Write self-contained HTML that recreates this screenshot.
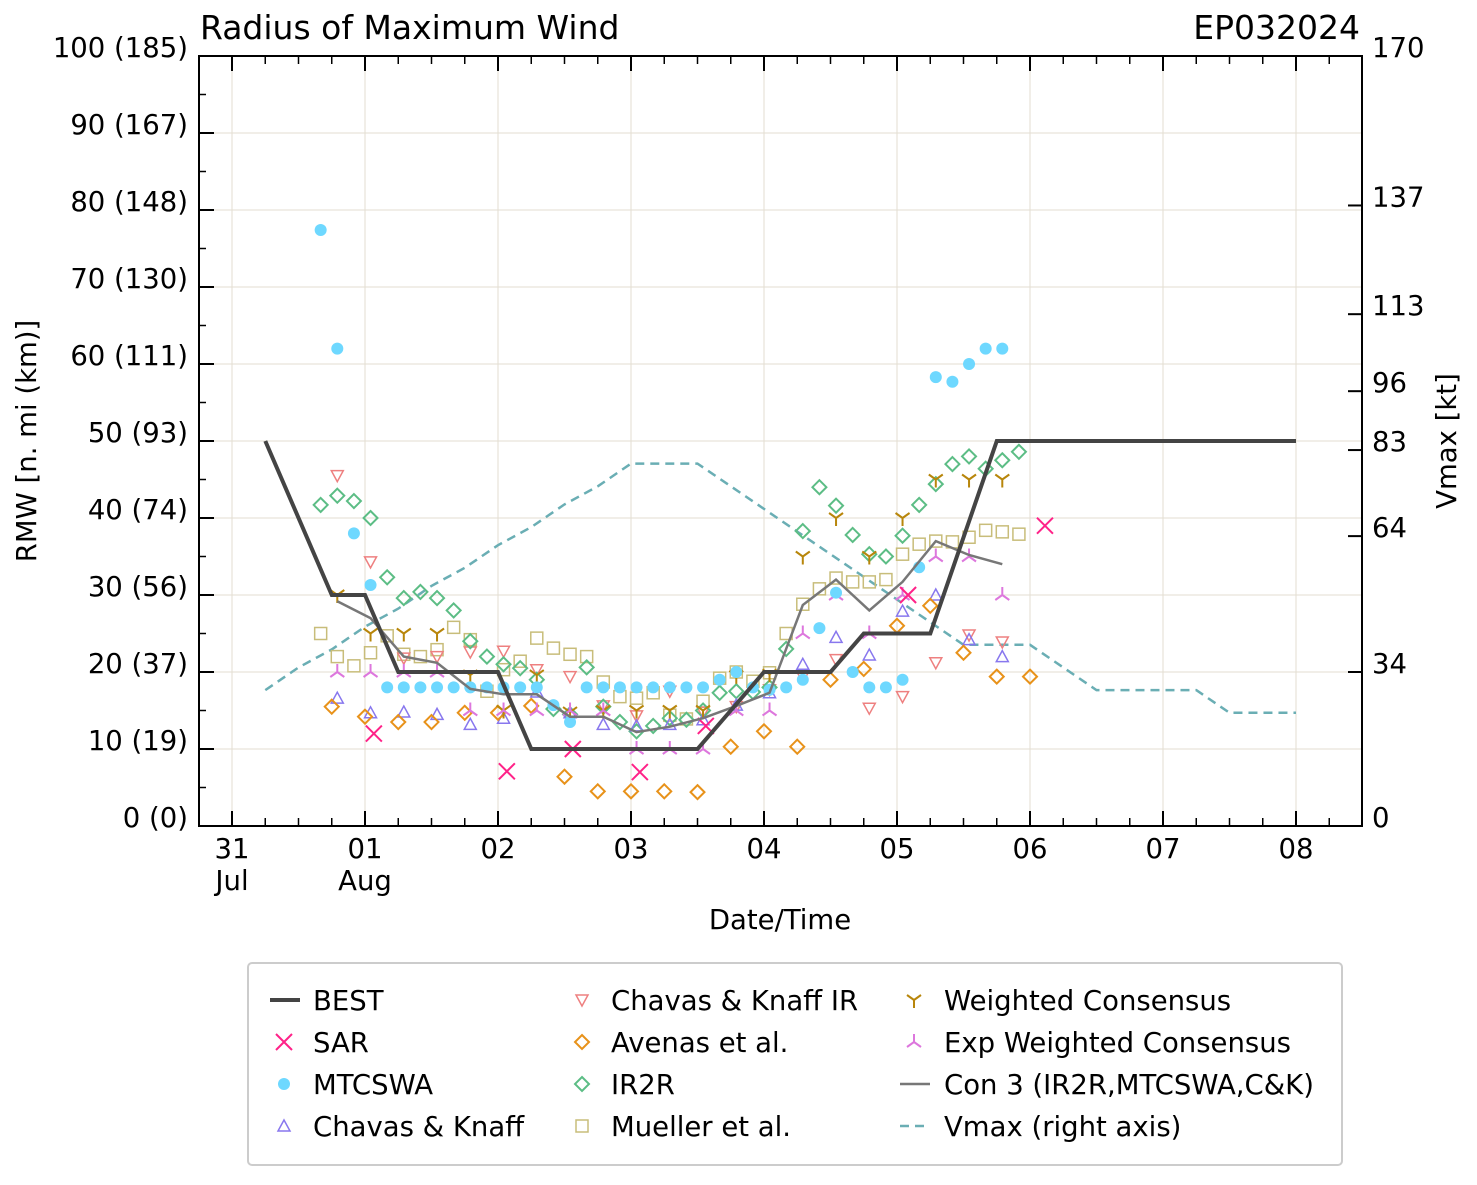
<!DOCTYPE html>
<html><head><meta charset="utf-8"><style>
body{margin:0;background:#fff}
svg text{font-family:"DejaVu Sans","Liberation Sans",sans-serif;fill:#000}
</style></head><body>
<svg id="c" width="1477" height="1180" xmlns="http://www.w3.org/2000/svg">
<text x="200" y="39" font-size="33">Radius of Maximum Wind</text>
<text x="1360" y="39" font-size="33" text-anchor="end">EP032024</text>
<text x="780" y="929" font-size="27.5" text-anchor="middle">Date/Time</text>
<text transform="translate(36,441) rotate(-90)" font-size="27.5" text-anchor="middle">RMW [n. mi (km)]</text>
<text transform="translate(1456,441) rotate(-90)" font-size="27.5" text-anchor="middle">Vmax [kt]</text>
<g id="grid"></g><g id="marks"></g><g id="axes"></g><g id="legend"></g>
</svg>
<script>
const t3 = [16,19,22,25,28,31,34,37,40,43,46,49,52,55,58,61,64,67,70,73,76,79,82,85,88,91,94,97,100,103,106,109,112,115,118,121,124,127,130,133,136,139,142];
const t6 = [19,25,31,37,43,49,55,61,67,73,79,85,91,97,103,109,115,121,127,133,139];
const tAven = [18,24,30,36,42,48,54,60,66,72,78,84,90,96,102,108,114,120,126,132,138,144];
const bestT = [6,18,24,30,48,54,84,96,108,114,126,138,192];
const bestV = [50,30,30,20,20,10,10,20,20,25,25,50,50];
const vmaxT = [6,12,18,24,30,36,42,48,54,60,66,72,84,90,96,102,108,114,120,126,132,138,144,150,156,174,180,192];
const vmaxV = [30,35,39,44,48,53,57,62,66,71,75,80,80,75,70,65,60,55,50,45,40,40,40,35,30,30,25,25];
const mtcT = t3.slice(0,42);
const mtcV = [77.4,62,38,31.3,18,18,18,18,18,18,18,18,18,18,15.7,13.5,18,18,18,18,18,18,18,18,19,20,18,17.7,18,19,25.7,30.3,20,18,18,19,33.6,58.3,57.7,60,62,62];
const sarT = [25.6,49.6,61.5,73.6,85.5,122,146.7];
const sarV = [12,7.1,10,7,13,30,39];
const ir2rV = [41.7,42.9,42.2,40,32.3,29.6,30.4,29.6,28,24,22,21,20.5,19,15.2,14.5,20.6,15.5,13.5,12.3,13,14,13.8,15,17.3,17.5,17.4,18,23,38.3,44,41.6,37.8,35.3,35,37.7,41.7,44.4,47,48,46.4,47.5,48.6];
const muelV = [25,22,20.8,22.5,24.7,22.3,22,22.9,25.8,24.2,17.5,20.3,21.4,24.4,23.1,22.3,22,18.7,16.8,16.6,17.3,14.4,13.9,16.2,19.2,20,18.8,19.9,25,28.8,30.8,32.2,31.7,31.7,32,35.3,36.6,37,36.9,37.5,38.4,38.2,37.9];
const ckV = [16.6,14.7,14.8,14.5,13.2,14,17.4,14.7,13.2,13,13.2,13.8,15.7,17.3,21,24.5,22.2,27.9,30,24.2,22];
const ckirV = [45.5,34.3,21.8,22,22.6,22.7,20.3,19.4,15.6,14.3,17.5,14.8,15.5,17.7,19.4,21.6,15.3,16.8,21.2,24.8,23.9];
const avenV = [15.5,14.2,13.5,13.5,14.7,14.7,15.6,6.4,4.5,4.5,4.5,4.4,10.3,12.3,10.3,19,20.4,26,28.6,22.5,19.4,19.4];
const wcV = [30,25,25,25,19.6,15,19.6,14.8,15,15,15,15,19.5,19.7,35,40,35,40,45,45,45];
const ewcV = [20,20,20,20,15,15,15,15,15,10,10,10,15,15,25,30,25,30,35,35,30];
const con3V = [29.2,27,22,21.2,17.8,17.1,17.1,14.2,14.2,12.2,12.9,14,15.6,17.3,28.7,32,28,31.7,37,35.2,34];
const yTicks = ["0 (0)","10 (19)","20 (37)","30 (56)","40 (74)","50 (93)","60 (111)","70 (130)","80 (148)","90 (167)","100 (185)"];
const vTicks = [0,34,64,83,96,113,137,170];
const dayLabels = ["31","01","02","03","04","05","06","07","08"];

const L=199,R=1362,T=56,B=826;
const X = h => 232 + h/24*133;
const Y = v => B - v*(B-T)/100;
const YR = v => B - v*(B-T)/170;
const NS="http://www.w3.org/2000/svg";
function mk(tag, attrs, parent){const e=document.createElementNS(NS,tag);for(const k in attrs)e.setAttribute(k,attrs[k]);parent.appendChild(e);return e;}
const grid=document.getElementById('grid'), marks=document.getElementById('marks'), axes=document.getElementById('axes'), leg=document.getElementById('legend');

for(let i=0;i<=10;i++){const g=mk('line',{x1:L,x2:R,y1:Y(i*10),y2:Y(i*10),stroke:'#e3ded2','stroke-width':1},grid);

}
dayLabels.forEach((d,i)=>{const g=mk('line',{x1:X(i*24),x2:X(i*24),y1:T,y2:B,stroke:'#e3ded2','stroke-width':1},grid);

});

function marker(type,cx,cy,color,parent){
  let e;
  if(type==='dot') e=mk('circle',{cx,cy,r:6,fill:color},parent);
  else if(type==='x') e=mk('path',{d:`M${cx-8},${cy-8}L${cx+8},${cy+8}M${cx-8},${cy+8}L${cx+8},${cy-8}`,stroke:color,'stroke-width':2,fill:'none'},parent);
  else if(type==='tri') e=mk('path',{d:`M${cx},${cy-6}L${cx+6},${cy+5}L${cx-6},${cy+5}Z`,stroke:color,'stroke-width':1.5,fill:'none'},parent);
  else if(type==='tridown') e=mk('path',{d:`M${cx},${cy+6}L${cx+6},${cy-5}L${cx-6},${cy-5}Z`,stroke:color,'stroke-width':1.5,fill:'none'},parent);
  else if(type==='dia') e=mk('path',{d:`M${cx},${cy-7}L${cx+7},${cy}L${cx},${cy+7}L${cx-7},${cy}Z`,stroke:color,'stroke-width':2,fill:'none'},parent);
  else if(type==='sq') e=mk('rect',{x:cx-6,y:cy-6,width:12,height:12,stroke:color,'stroke-width':1.5,fill:'none'},parent);
  else if(type==='y') e=mk('path',{d:`M${cx},${cy}L${cx},${cy+8}M${cx},${cy}L${cx-7},${cy-5}M${cx},${cy}L${cx+7},${cy-5}`,stroke:color,'stroke-width':2,fill:'none'},parent);
  else if(type==='yinv') e=mk('path',{d:`M${cx},${cy}L${cx},${cy-8}M${cx},${cy}L${cx-7},${cy+5}M${cx},${cy}L${cx+7},${cy+5}`,stroke:color,'stroke-width':2,fill:'none'},parent);
  return e;
}
function scatter(ts,vs,type,color,name){
  const g=mk('g',{},marks);
  
  
  ts.forEach((t,i)=>{const e=marker(type,X(t),Y(vs[i]),color,g);
    
    });
}
function line(ts,vs,color,w,dash,yf,name){
  const d=ts.map((t,i)=>(i?'L':'M')+X(t).toFixed(1)+','+yf(vs[i]).toFixed(1)).join('');
  const e=mk('path',{d,stroke:color,'stroke-width':w,fill:'none','stroke-dasharray':dash||'none'},marks);
  
  
}
line(vmaxT,vmaxV,'#6aaeb4',2.5,'9,6',YR,'vmax-line');
scatter(t3,muelV,'sq','#c8bd7a','mueller');
scatter(t6,ckirV,'tridown','#ee8080','chavas-knaff-ir');
scatter(t3,ir2rV,'dia','#5cbd85','ir2r');
scatter(t6,ckV,'tri','#8877ee','chavas-knaff');
scatter(tAven,avenV,'dia','#e8921a','avenas');
scatter(t6,wcV,'y','#b8860b','weighted-consensus');
scatter(t6,ewcV,'yinv','#dd77dd','exp-weighted-consensus');
scatter(mtcT,mtcV,'dot','#6ed8ff','mtcswa');
scatter(sarT,sarV,'x','#ff2288','sar');
line(t6,con3V,'#777',2.5,null,Y,'con3-line');
line(bestT,bestV,'#444',4,null,Y,'best-track-line');

const fr=mk('rect',{x:L,y:T,width:R-L,height:B-T,fill:'none',stroke:'#000','stroke-width':2},axes);


yTicks.forEach((s,i)=>{
  const y=Y(i*10);
  mk('line',{x1:L,x2:L+15,y1:y,y2:y,stroke:'#000','stroke-width':2},axes);
  if(i<10) mk('line',{x1:L,x2:L+7,y1:Y(i*10+5),y2:Y(i*10+5),stroke:'#000','stroke-width':1.5},axes);
  const t=mk('text',{x:188,y:y+1,'font-size':27.5,'text-anchor':'end'},axes);t.textContent=s;
  
  
});
vTicks.forEach(v=>{
  const y=YR(v);
  mk('line',{x1:R-14,x2:R,y1:y,y2:y,stroke:'#000','stroke-width':2},axes);
  const t=mk('text',{x:1372,y:y+1,'font-size':27.5},axes);t.textContent=v;
  
  
});
for(let h=-6;h<=204;h+=6){const x=X(h);if(x<L||x>R)continue;const maj=h%24===0;const len=maj?15:8;
  mk('line',{x1:x,x2:x,y1:B,y2:B-len,stroke:'#000','stroke-width':maj?2:1.5},axes);
  mk('line',{x1:x,x2:x,y1:T,y2:T+len,stroke:'#000','stroke-width':maj?2:1.5},axes);}
dayLabels.forEach((d,i)=>{const t=mk('text',{x:X(i*24),y:858,'font-size':27.5,'text-anchor':'middle'},axes);t.textContent=d;
  
  });
[["Jul",0],["Aug",24]].forEach(([m,h])=>{const t=mk('text',{x:X(h),y:890,'font-size':27.5,'text-anchor':'middle'},axes);t.textContent=m;
  
  });

const lb=mk('rect',{x:248,y:963,width:1094,height:202,rx:4,fill:'#fff',stroke:'#ccc','stroke-width':2},leg);


const items=[
 [270,1000,'line','#444','BEST',4,null],[270,1042,'x','#ff2288','SAR'],[270,1084,'dot','#6ed8ff','MTCSWA'],[270,1126,'tri','#8877ee','Chavas & Knaff'],
 [568,1000,'tridown','#ee8080','Chavas & Knaff IR'],[568,1042,'dia','#e8921a','Avenas et al.'],[568,1084,'dia','#5cbd85','IR2R'],[568,1126,'sq','#c8bd7a','Mueller et al.'],
 [900,1000,'y','#b8860b','Weighted Consensus'],[900,1042,'yinv','#dd77dd','Exp Weighted Consensus'],[900,1084,'line','#777','Con 3 (IR2R,MTCSWA,C&K)',2.5,null],[900,1126,'line','#6aaeb4','Vmax (right axis)',2.5,'9,6']];
items.forEach(it=>{
  const [x,y,type,col,label,w,dash]=it;
  const g=mk('g',{},leg);
  
  
  if(type==='line') mk('line',{x1:x,x2:x+30,y1:y,y2:y,stroke:col,'stroke-width':w,'stroke-dasharray':dash||'none'},g);
  else marker(type,x+14,y,col,g);
  const t=mk('text',{x:x+(x===900?44:43),y:y+10,'font-size':27.5},g);t.textContent=label;
});
</script>
</body></html>
